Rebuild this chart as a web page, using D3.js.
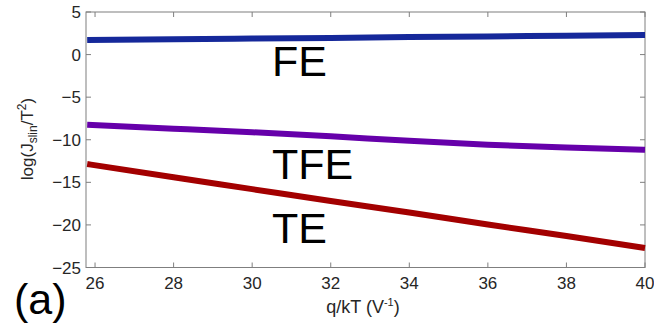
<!DOCTYPE html>
<html><head><meta charset="utf-8">
<script src="https://cdn.jsdelivr.net/npm/d3@7"></script>
<style>body{margin:0;background:#fff;} svg{display:block;}</style>
</head><body>
<svg id="c" width="654" height="324"></svg>
<script>
const qkT = [25.8, 28, 30, 32, 34, 36, 38, 40];
const feVals  = [1.7, 1.79, 1.88, 1.96, 2.05, 2.13, 2.22, 2.3];
const tfeVals = [-8.25, -8.7, -9.12, -9.6, -10.12, -10.58, -10.92, -11.17];
const teVals  = [-12.85, -14.4, -15.8, -17.2, -18.55, -19.95, -21.3, -22.7];
const xTicks = [26, 28, 30, 32, 34, 36, 38, 40];
const yTicks = [5, 0, -5, -10, -15, -20, -25];
const seriesNames = ["FE", "TFE", "TE"];
const seriesColors = ["#15289a", "#6600aa", "#a30000"];

const svg = d3.select("#c");
const L = 86, R = 645, T = 12, B = 267.5;
const x = d3.scaleLinear().domain([25.77, 40]).range([L, R]);
const y = d3.scaleLinear().domain([-25, 5]).range([B, T]);
const font = "'Liberation Sans', Arial, sans-serif";
const axisCol = "#7f7f7f";
const txtCol = "#262626";

// box
svg.append("rect").attr("x", L).attr("y", T).attr("width", R - L).attr("height", B - T)
  .attr("fill", "none").attr("stroke", axisCol).attr("stroke-width", 1);

// ticks inward (matlab style)
const tl = 5;
xTicks.forEach(t => {
  svg.append("line").attr("x1", x(t)).attr("x2", x(t)).attr("y1", B).attr("y2", B - tl).attr("stroke", axisCol);
  svg.append("line").attr("x1", x(t)).attr("x2", x(t)).attr("y1", T).attr("y2", T + tl).attr("stroke", axisCol);
  svg.append("text").attr("x", x(t)).attr("y", B + 21.5).attr("text-anchor", "middle")
    .attr("font-family", font).attr("font-size", 17).attr("fill", txtCol).text(t);
});
yTicks.forEach(t => {
  svg.append("line").attr("x1", L).attr("x2", L + tl).attr("y1", y(t)).attr("y2", y(t)).attr("stroke", axisCol);
  svg.append("line").attr("x1", R).attr("x2", R - tl).attr("y1", y(t)).attr("y2", y(t)).attr("stroke", axisCol);
  svg.append("text").attr("x", L - 5).attr("y", y(t) + 6).attr("text-anchor", "end")
    .attr("font-family", font).attr("font-size", 17).attr("fill", txtCol)
    .text(t < 0 ? "\u2212" + Math.abs(t) : t);
});

// lines
const allVals = [feVals, tfeVals, teVals];
const line = d3.line().x(d => x(d[0])).y(d => y(d[1])).curve(d3.curveMonotoneX);
allVals.forEach((vals, i) => {
  svg.append("path").datum(qkT.map((q, j) => [q, vals[j]]))
    .attr("d", line).attr("fill", "none").attr("stroke", seriesColors[i]).attr("stroke-width", 6);
});

// series labels
const labelPos = [[272, 76], [272, 179], [272, 243]];
seriesNames.forEach((n, i) => {
  svg.append("text").attr("x", labelPos[i][0]).attr("y", labelPos[i][1])
    .attr("font-family", font).attr("font-size", 43).attr("fill", "#000").text(n);
});

// x label
const xl = svg.append("text").attr("x", 363).attr("y", 313).attr("text-anchor", "middle")
  .attr("font-family", font).attr("font-size", 18).attr("fill", txtCol);
xl.append("tspan").text("q/kT (V");
xl.append("tspan").attr("font-size", 11).attr("dy", -7).text("-1");
xl.append("tspan").attr("dy", 7).text(")");

// y label
const yl = svg.append("text").attr("transform", "translate(33,139) rotate(-90)").attr("text-anchor", "middle")
  .attr("font-family", font).attr("font-size", 17).attr("fill", txtCol);
yl.append("tspan").text("log(J");
yl.append("tspan").attr("font-size", 12).attr("dy", 4).text("slin");
yl.append("tspan").attr("dy", -4).text("/T");
yl.append("tspan").attr("font-size", 12).attr("dy", -7).text("2");
yl.append("tspan").attr("dy", 7).text(")");

// panel label
svg.append("text").attr("x", 14).attr("y", 314).attr("font-family", font).attr("font-size", 43)
  .attr("fill", "#000").text("(a)");
</script>
</body></html>
